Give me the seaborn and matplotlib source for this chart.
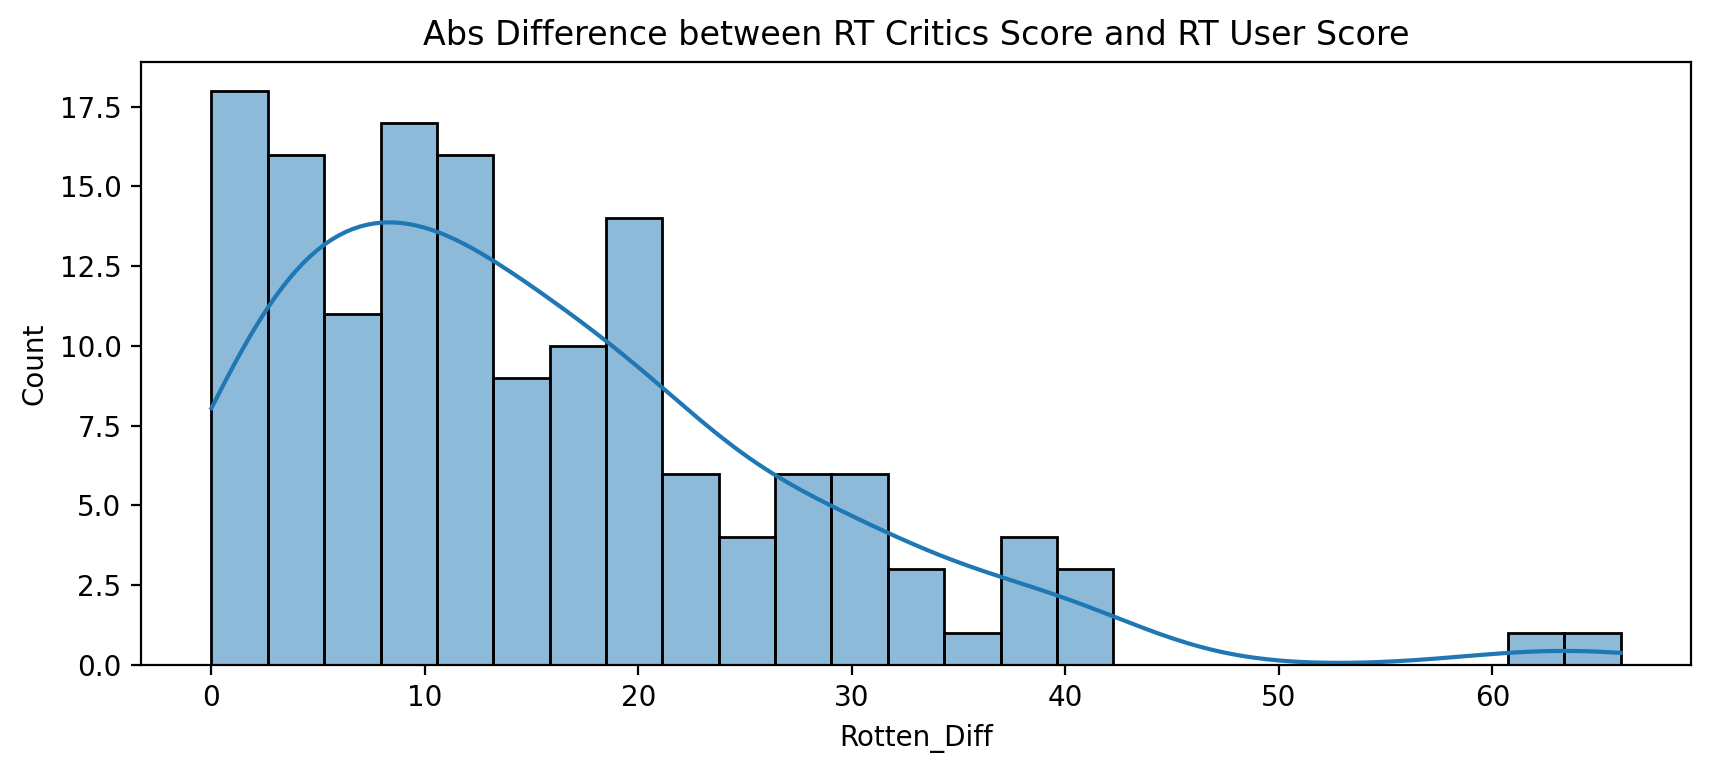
import numpy as np
import pandas as pd
import matplotlib
matplotlib.use('Agg')
import matplotlib.pyplot as plt
import seaborn as sns

# counts per bin (25 bins over 0..66)
bin_edges_lo = 0
bin_edges_hi = 66
n_bins = 25
counts = [18, 16, 11, 17, 16, 9, 10, 14, 6, 4, 6, 6, 3, 1, 4, 3,
          0, 0, 0, 0, 0, 0, 0, 1, 1]

width = (bin_edges_hi - bin_edges_lo) / n_bins
centers = [bin_edges_lo + width * (i + 0.5) for i in range(n_bins)]

df = pd.DataFrame({'Rotten_Diff': centers, 'n': counts})
df = df[df['n'] > 0]

# weighted kde uses the effective n, so shrink the bandwidth back
# to what 146 raw observations would give
n_tot = sum(counts)
n_eff = n_tot ** 2 / sum(c ** 2 for c in counts)
bw_adj = (n_tot / n_eff) ** (-1 / 5)

fig = plt.figure(figsize=(8.55, 3.87), dpi=200)
ax = fig.add_subplot(111)
fig.subplots_adjust(left=141/1710, right=1691/1710, top=1-62/774, bottom=1-665/774)

sns.histplot(
    data=df,
    x='Rotten_Diff',
    weights='n',
    bins=n_bins,
    binrange=(bin_edges_lo, bin_edges_hi),
    kde=True,
    kde_kws={'cut': 3, 'clip': (bin_edges_lo, bin_edges_hi), 'bw_adjust': bw_adj},
    ax=ax
)
ax.set_xlim(-3.3, 69.3)
ax.set_title("Abs Difference between RT Critics Score and RT User Score")
ax.set_ylabel("Count")

fig.savefig("out.png", dpi=200)
